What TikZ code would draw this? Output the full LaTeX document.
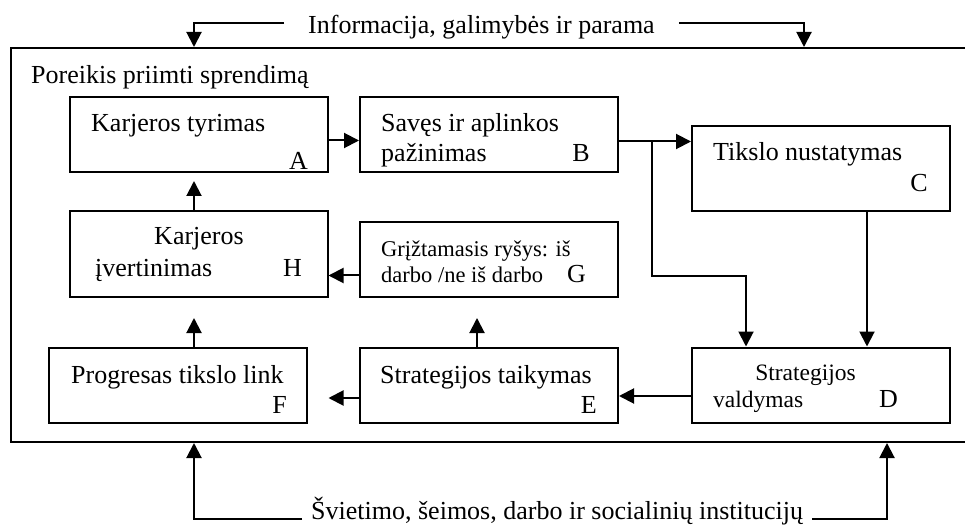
\documentclass[tikz,border=0pt]{standalone}
\usepackage{fontspec}
\setmainfont{Liberation Serif}
\usetikzlibrary{arrows.meta,calc,positioning}

\begin{document}
\begin{tikzpicture}[x=1pt,y=1pt,font=\fontsize{26}{30}\selectfont,
    box/.style={draw,line width=2pt,minimum width=258pt,minimum height=75pt,inner sep=0pt},
    txt/.style={inner sep=0pt},
    small/.style={txt,font=\fontsize{22.5}{26}\selectfont},
    arr/.style={-{Triangle[length=15pt,width=15pt]},line width=2pt}]
  \useasboundingbox (0,0) rectangle (965,525);
  % outer frame (its right side runs off the page)
  \node[draw,line width=2pt,minimum width=964pt,minimum height=394pt,inner sep=0pt] (frame) at (493,280) {};
  \node[txt,anchor=base west] (need) at (31,441) {Poreikis priimti sprendimą};
  % boxes
  \node[box] (A) at (198.5,390.5) {};
  \node[box] (B) at (489,390.5) {};
  \node[box,minimum height=85pt] (C) at (821,356.5) {};
  \node[box,minimum height=86pt] (H) at (198.5,271) {};
  \node[box] (G) at (489,265.5) {};
  \node[box] (F) at (178,140) {};
  \node[box] (E) at (489,140) {};
  \node[box] (D) at (821,140) {};
  % box texts
  \node[txt,anchor=base west] (a1) at (91,393) {Karjeros tyrimas};
  \node[txt,anchor=base east] (a2) at (308,355) {A};
  \node[txt,anchor=base west] (b1) at (381,393) {Savęs ir aplinkos};
  \node[txt,anchor=base west] (b2) at (381,363) {pažinimas};
  \node[txt,anchor=base east] (b3) at (590,363) {B};
  \node[txt,anchor=base west] (c1) at (713,364) {Tikslo nustatymas};
  \node[txt,anchor=base east] (c2) at (928,333) {C};
  \node[txt,anchor=base] (h1) at (199,280) {Karjeros};
  \node[txt,anchor=base west] (h2) at (95,248) {įvertinimas};
  \node[txt,anchor=base east] (h3) at (302,248) {H};
  \node[small,anchor=base west] (g1) at (381,268) {Grįžtamasis ryšys: iš};
  \node[small,anchor=base west] (g2) at (381,242) {darbo /ne iš darbo};
  \node[txt,anchor=base east] (g3) at (586,242) {G};
  \node[txt,anchor=base west] (f1) at (71,142) {Progresas tikslo link};
  \node[txt,anchor=base east] (f2) at (287,112) {F};
  \node[txt,anchor=base west] (e1) at (380,142) {Strategijos taikymas};
  \node[txt,anchor=base east] (e2) at (597,112) {E};
  \node[small,font=\fontsize{23.5}{27}\selectfont,anchor=base] (d1) at (805.5,145) {Strategijos};
  \node[small,font=\fontsize{23.5}{27}\selectfont,anchor=base west] (d2) at (713,118) {valdymas};
  \node[txt,anchor=base east] (d3) at (898,118) {D};
  % flows inside the frame
  \draw[arr] ([yshift=-6pt]A.east) -- ([yshift=-6pt]A.east -| B.west);
  \draw[arr] ([yshift=-7pt]B.east) -- ([yshift=-7pt]B.east -| C.west);
  \coordinate (split) at ([xshift=33pt,yshift=-7pt]B.east);
  \coordinate (bend) at (746,249);
  \draw[arr] (split) |- (bend) -- (bend |- D.north);
  \draw[arr] ([xshift=46pt]C.south) -- ([xshift=46pt]C.south |- D.north);
  \draw[arr] ([yshift=-11pt]D.west) -- ([yshift=-11pt]D.west -| E.east);
  \draw[arr] ([yshift=-13pt]E.west) -- ([yshift=-13pt]E.west -| H.east);
  \draw[arr,shorten >=20pt] ([xshift=-12pt]E.north) -- ([xshift=-12pt]E.north |- G.south);
  \draw[arr,shorten >=20pt] ([xshift=16pt]F.north) -- ([xshift=16pt]F.north |- H.south);
  \draw[arr] ([yshift=-16pt]G.west) -- ([yshift=-16pt]G.west -| H.east);
  \draw[arr,shorten >=8pt] ([xshift=-4.5pt]H.north) -- ([xshift=-4.5pt]H.north |- A.south);
  % information from above
  \node[txt,inner xsep=24pt,anchor=base west] (info) at (284,491.5) {Informacija, galimybės ir parama};
  \coordinate (inL) at (194,502);
  \coordinate (inR) at (804,502);
  \draw[arr] (info.west |- inL) -| (frame.north -| inL);
  \draw[arr] (info.east |- inR) -| (frame.north -| inR);
  % institutions from below
  \node[txt,inner xsep=9pt,anchor=base west] (inst) at (302,6) {Švietimo, šeimos, darbo ir socialinių institucijų};
  \coordinate (outL) at (194,6);
  \coordinate (outR) at (887,6);
  \draw[arr] (inst.west |- outL) -| (frame.south -| outL);
  \draw[arr] (inst.east |- outR) -| (frame.south -| outR);
\end{tikzpicture}
\end{document}
